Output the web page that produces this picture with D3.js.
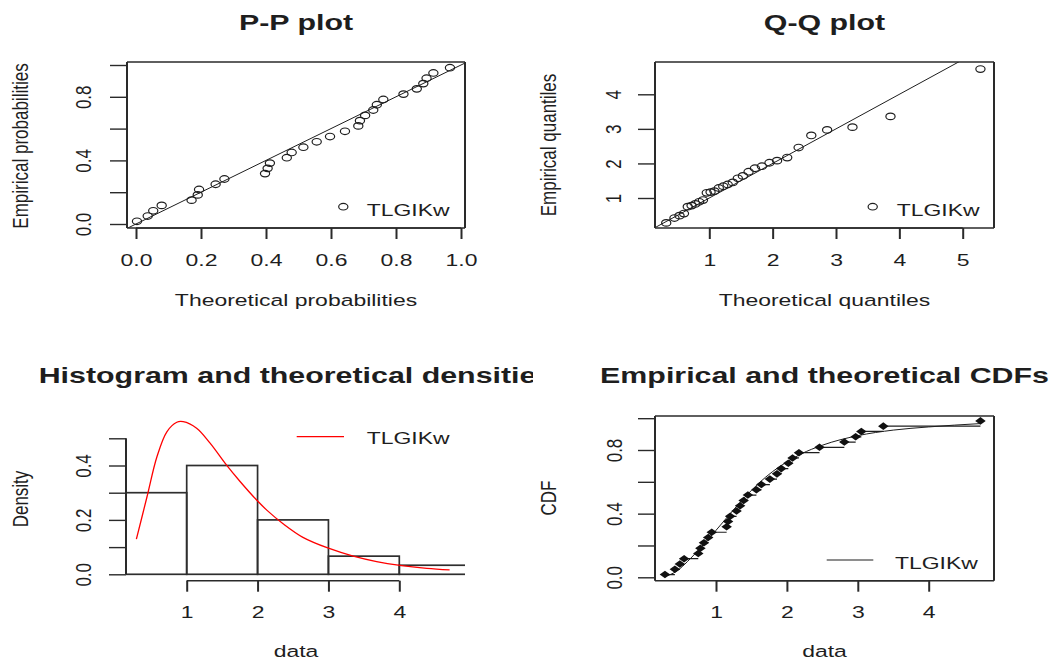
<!DOCTYPE html>
<html lang="en">
<head>
<meta charset="UTF-8">
<title>TLGIKw fit diagnostics</title>
<script src="https://d3js.org/d3.v7.min.js"></script>
<style>
    body { margin: 0; background: #fff; }
    text { font-family: "Liberation Sans", Arial, sans-serif; fill: #1e1e1e; }
</style>
</head>
<body>
<div id="fig"></div>
<script>
    // sorted observations (empirical quantiles)
    let obs = [0.28, 0.42, 0.49, 0.55, 0.75, 0.78, 0.83, 0.89, 0.94, 1.15,
        1.17, 1.20, 1.29, 1.34, 1.39, 1.45, 1.57, 1.64, 1.76, 1.86,
        1.92, 2.02, 2.08, 2.17, 2.46, 2.81, 2.97, 3.05, 3.36, 4.73]
    // plotting positions (empirical probabilities)
    let empProb = [0.017, 0.050, 0.083, 0.117, 0.150, 0.183, 0.217, 0.250, 0.283, 0.317,
        0.350, 0.383, 0.417, 0.450, 0.483, 0.517, 0.550, 0.583, 0.617, 0.650,
        0.683, 0.717, 0.750, 0.783, 0.817, 0.850, 0.883, 0.917, 0.950, 0.983]
    // P-P plot: theoretical probabilities
    let ppTheo = [0.003, 0.036, 0.053, 0.079, 0.171, 0.190, 0.194, 0.245, 0.272, 0.397,
        0.405, 0.412, 0.464, 0.479, 0.515, 0.556, 0.597, 0.643, 0.684, 0.689,
        0.705, 0.730, 0.741, 0.761, 0.823, 0.864, 0.884, 0.894, 0.915, 0.966]
    // Q-Q plot: theoretical quantiles
    let qqTheo = [0.32, 0.45, 0.53, 0.60, 0.66, 0.72, 0.78, 0.84, 0.90, 0.96,
        1.02, 1.08, 1.15, 1.22, 1.29, 1.37, 1.45, 1.53, 1.62, 1.72,
        1.83, 1.95, 2.07, 2.23, 2.41, 2.61, 2.86, 3.26, 3.86, 5.28]
    // histogram
    let histBreaks = [0, 1, 2, 3, 4, 5]
    let histDensity = [0.3, 0.4, 0.2, 0.0667, 0.0333]
    // fitted density curve
    let densX = [0.29, 0.44, 0.58, 0.72, 0.86, 0.95, 1.14, 1.33, 1.56, 1.75,
        1.99, 2.13, 2.36, 2.64, 3.00, 3.35, 3.68, 4.01, 4.39, 4.71]
    let densY = [0.129, 0.285, 0.432, 0.524, 0.559, 0.561, 0.537, 0.482, 0.402, 0.342,
        0.272, 0.236, 0.186, 0.136, 0.096, 0.067, 0.047, 0.033, 0.022, 0.016]
    // fitted CDF curve
    let cdfX = [0.28, 0.45, 0.60, 0.75, 0.90, 1.00, 1.20, 1.40, 1.60, 1.80,
        2.00, 2.20, 2.50, 3.00, 3.50, 4.00, 4.73]
    let cdfY = [0.005, 0.04, 0.10, 0.17, 0.245, 0.295, 0.40, 0.50, 0.59, 0.665,
        0.725, 0.775, 0.83, 0.89, 0.925, 0.945, 0.966]

    let probTicks = [0, 0.2, 0.4, 0.6, 0.8, 1]
    let probLabels = [0, 0.4, 0.8]
    let qqXTicks = [1, 2, 3, 4, 5]
    let qqYTicks = [1, 2, 3, 4]
    let dataTicks = [1, 2, 3, 4]
    let densTicks = [0, 0.1, 0.2, 0.3, 0.4, 0.5]
    let densLabels = [0, 0.2, 0.4]
    let legendName = "TLGIKw"

    const SX = 1.35   // glyphs in the picture are stretched sideways
    const FS = 17
    const TS = 22.5
    const INK = "#1e1e1e"

    let svg = d3.select("#fig").append("svg")
        .attr("width", 1050).attr("height", 664)
    let defs = svg.append("defs")

    function clip(id, x0, y0, x1, y1) {
        defs.append("clipPath").attr("id", id).append("rect")
            .attr("x", x0).attr("y", y0).attr("width", x1 - x0).attr("height", y1 - y0)
        return `url(#${id})`
    }

    function label(x, y, s, o = {}) {
        let parent = o.clip ? svg.append("g").attr("clip-path", o.clip) : svg
        return parent.append("text")
            .attr("transform", `translate(${x},${y}) scale(${SX},1)` + (o.rot ? " rotate(-90)" : ""))
            .attr("text-anchor", o.anchor || "middle")
            .attr("font-size", o.size || FS)
            .attr("font-weight", o.bold ? "bold" : "normal")
            .text(s)
    }

    function box(x0, y0, x1, y1) {
        let g = svg.append("g").attr("stroke", "#2a2a2a").attr("fill", "none")
        g.append("line").attr("x1", x0).attr("x2", x1).attr("y1", y0).attr("y2", y0).attr("stroke-width", 1.4)
        g.append("line").attr("x1", x0).attr("x2", x1).attr("y1", y1).attr("y2", y1).attr("stroke-width", 1.4)
        g.append("line").attr("x1", x0).attr("x2", x0).attr("y1", y0).attr("y2", y1).attr("stroke-width", 2)
        g.append("line").attr("x1", x1).attr("x2", x1).attr("y1", y0).attr("y2", y1).attr("stroke-width", 2)
    }

    function xAxis(scale, ticks, y, baseline) {
        let g = svg.append("g").attr("transform", `translate(0,${y})`)
            .call(d3.axisBottom(scale).tickValues(ticks).tickSize(11).tickSizeOuter(0)
                .tickFormat(d => ticks[ticks.length - 1] === 1 ? d3.format(".1f")(d) : d))
        g.select(".domain").remove()
        g.append("line").attr("x1", scale(ticks[0])).attr("x2", scale(ticks[ticks.length - 1]))
            .attr("stroke", "#2a2a2a").attr("stroke-width", 1.4)
        g.selectAll(".tick line").attr("stroke", "#2a2a2a").attr("stroke-width", 2)
        g.selectAll(".tick text")
            .attr("x", 0).attr("y", 0).attr("dy", null)
            .attr("transform", `translate(0,${baseline - y}) scale(${SX},1)`)
            .attr("font-size", FS).attr("font-family", null).attr("fill", INK)
    }

    function yAxis(scale, ticks, labels, x, baseline) {
        let g = svg.append("g").attr("transform", `translate(${x},0)`)
            .call(d3.axisLeft(scale).tickValues(ticks).tickSize(17).tickSizeOuter(0)
                .tickFormat(d => labels.includes(d) ? (labels[labels.length - 1] < 1 ? d3.format(".1f")(d) : d) : ""))
        g.select(".domain").remove()
        g.append("line").attr("y1", scale(ticks[0])).attr("y2", scale(ticks[ticks.length - 1]))
            .attr("stroke", "#2a2a2a").attr("stroke-width", 2)
        g.selectAll(".tick line").attr("stroke", "#2a2a2a").attr("stroke-width", 1.4)
        g.selectAll(".tick text")
            .attr("x", 0).attr("y", 0).attr("dy", null)
            .attr("text-anchor", "middle")
            .attr("transform", `translate(${baseline - x},0) scale(${SX},1) rotate(-90)`)
            .attr("font-size", FS).attr("font-family", null).attr("fill", INK)
    }

    function openPoints(g, xs, ys, xScale, yScale) {
        g.selectAll("ellipse").data(d3.range(xs.length)).join("ellipse")
            .attr("cx", i => xScale(xs[i])).attr("cy", i => yScale(ys[i]))
            .attr("rx", 4.6).attr("ry", 3.3)
            .attr("fill", "none").attr("stroke", INK).attr("stroke-width", 1.2)
    }

    let idx = d3.range(obs.length)

    // ---------- P-P plot ----------
    let xPP = d3.scaleLinear([0, 1], [136, 461])
    let yPP = d3.scaleLinear([0, 1], [224, 65])
    let cPP = clip("cpp", 127, 62, 465, 228)
    svg.append("line").attr("clip-path", cPP)
        .attr("x1", xPP(-0.1)).attr("y1", yPP(-0.1)).attr("x2", xPP(1.1)).attr("y2", yPP(1.1))
        .attr("stroke", INK).attr("stroke-width", 1)
    openPoints(svg.append("g").attr("clip-path", cPP), ppTheo, empProb, xPP, yPP)
    box(127, 62, 465, 228)
    xAxis(xPP, probTicks, 228, 265.7)
    yAxis(yPP, probTicks, probLabels, 127, 91)
    label(296, 30, "P-P plot", {bold: true, size: TS})
    label(296, 306, "Theoretical probabilities")
    label(27.5, 146, "Empirical probabilities", {rot: true})
    openPoints(svg.append("g"), [0], [0], () => 343.3, () => 206.7)
    label(366.7, 216, legendName, {anchor: "start"})

    // ---------- Q-Q plot ----------
    let xQQ = d3.scaleLinear([1, 5], [709.3, 962.7])
    let yQQ = d3.scaleLinear([1, 4], [198, 94.3])
    let cQQ = clip("cqq", 655, 62, 994, 228)
    svg.append("line").attr("clip-path", cQQ)
        .attr("x1", xQQ(0)).attr("y1", yQQ(0)).attr("x2", xQQ(6)).attr("y2", yQQ(6))
        .attr("stroke", INK).attr("stroke-width", 1)
    openPoints(svg.append("g").attr("clip-path", cQQ), qqTheo, obs, xQQ, yQQ)
    box(655, 62, 994, 228)
    xAxis(xQQ, qqXTicks, 228, 265.7)
    yAxis(yQQ, qqYTicks, qqYTicks, 655, 621)
    label(824.5, 30, "Q-Q plot", {bold: true, size: TS})
    label(824.5, 306, "Theoretical quantiles")
    label(556, 145, "Empirical quantiles", {rot: true})
    openPoints(svg.append("g"), [0], [0], () => 872.7, () => 206.7)
    label(896.7, 216, legendName, {anchor: "start"})

    // ---------- Histogram and theoretical densities ----------
    let xH = d3.scaleLinear([1, 4], [186.7, 399.3])
    let yH = d3.scaleLinear([0, 0.5], [574.3, 438.3])
    let cH = clip("ch", 126, 380, 465, 590)
    svg.append("g").attr("clip-path", cH).selectAll("rect").data(histDensity).join("rect")
        .attr("x", (d, i) => xH(histBreaks[i]))
        .attr("width", (d, i) => xH(histBreaks[i + 1]) - xH(histBreaks[i]))
        .attr("y", d => yH(d)).attr("height", d => yH(0) - yH(d))
        .attr("fill", "none").attr("stroke", "#2e2e2e").attr("stroke-width", 1.7)
    svg.append("path")
        .datum(d3.zip(densX, densY))
        .attr("d", d3.line().x(d => xH(d[0])).y(d => yH(d[1])).curve(d3.curveCatmullRom))
        .attr("fill", "none").attr("stroke", "#ff0000").attr("stroke-width", 1.3)
    xAxis(xH, dataTicks, 580.7, 618)
    yAxis(yH, densTicks, densLabels, 126, 91)
    label(296, 383, "Histogram and theoretical densities",
        {bold: true, size: TS, clip: clip("ctitle", 0, 340, 533, 400)})
    label(296, 657, "data")
    label(27.5, 499, "Density", {rot: true})
    svg.append("line").attr("x1", 296.7).attr("x2", 344).attr("y1", 436.7).attr("y2", 436.7)
        .attr("stroke", "#ff0000").attr("stroke-width", 1.3)
    label(366.7, 444, legendName, {anchor: "start"})

    // ---------- Empirical and theoretical CDFs ----------
    let xC = d3.scaleLinear([1, 4], [716, 928.7])
    let yC = d3.scaleLinear([0, 0.8], [577.3, 450])
    let cC = clip("cc", 655, 416, 994, 580.7)
    let gC = svg.append("g").attr("clip-path", cC)
    gC.selectAll("line.step").data(idx.slice(0, -1)).join("line").attr("class", "step")
        .attr("x1", i => xC(obs[i])).attr("x2", i => xC(obs[i + 1]))
        .attr("y1", i => yC(empProb[i])).attr("y2", i => yC(empProb[i]))
        .attr("stroke", INK).attr("stroke-width", 1.2)
    gC.append("path")
        .datum(d3.zip(cdfX, cdfY))
        .attr("d", d3.line().x(d => xC(d[0])).y(d => yC(d[1])).curve(d3.curveMonotoneX))
        .attr("fill", "none").attr("stroke", INK).attr("stroke-width", 1)
    gC.selectAll("path.pt").data(idx).join("path").attr("class", "pt")
        .attr("d", d3.symbol(d3.symbolDiamond2, 36)())
        .attr("transform", i => `translate(${xC(obs[i])},${yC(empProb[i])}) scale(1.4,1)`)
        .attr("fill", "#111")
    box(655, 416, 994, 580.7)
    xAxis(xC, dataTicks, 580.7, 618)
    yAxis(yC, probTicks, probLabels, 655, 621.7)
    label(824.5, 383, "Empirical and theoretical CDFs", {bold: true, size: TS})
    label(824.5, 657, "data")
    label(556, 498, "CDF", {rot: true})
    svg.append("line").attr("x1", 826.7).attr("x2", 873.3).attr("y1", 560).attr("y2", 560)
        .attr("stroke", INK).attr("stroke-width", 1.2)
    label(895, 569.3, legendName, {anchor: "start"})
</script>
</body>
</html>
